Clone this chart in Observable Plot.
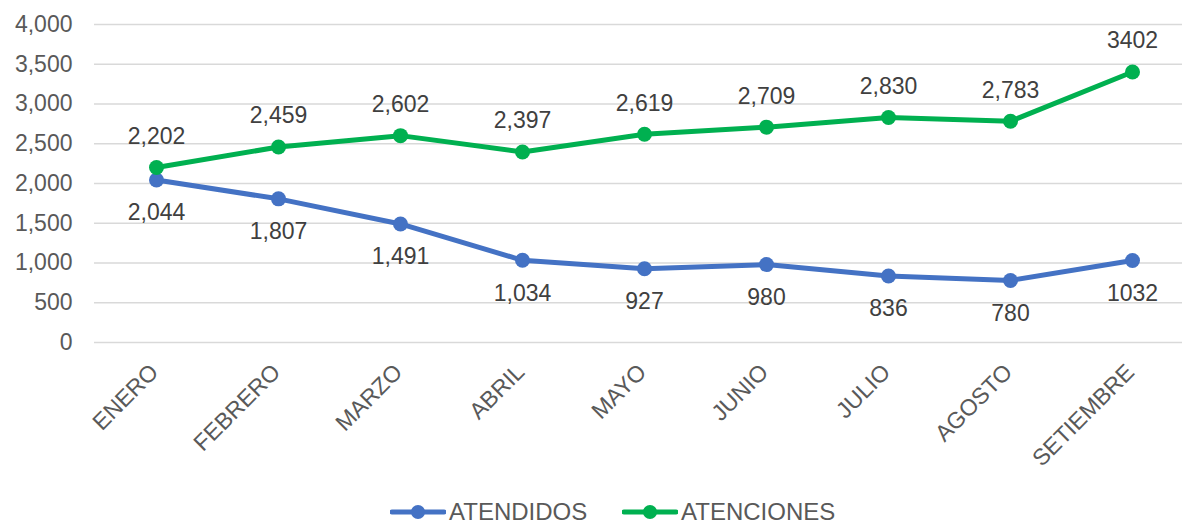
<!DOCTYPE html>
<html>
<head>
<meta charset="utf-8">
<script src="https://cdn.jsdelivr.net/npm/d3@7"></script>
<script src="https://cdn.jsdelivr.net/npm/@observablehq/plot@0.6"></script>
<style>
  html, body { margin: 0; padding: 0; background: #fff; }
  body { width: 1184px; height: 523px; overflow: hidden; font-family: "Liberation Sans", Arial, sans-serif; }
  #chart svg { display: block; }
  #legend { position: relative; height: 33px; }
  .item { position: absolute; top: 5px; height: 33px; display: flex; align-items: center; font-size: 24px; color: #595959; }
  .item svg { display: block; margin-right: 3px; }
</style>
</head>
<body>
<div id="chart"></div>
<div id="legend"></div>
<script>
const months = ["ENERO","FEBRERO","MARZO","ABRIL","MAYO","JUNIO","JULIO","AGOSTO","SETIEMBRE"];
const atendidos = [2044, 1807, 1491, 1034, 927, 980, 836, 780, 1032];
const atenciones = [2202, 2459, 2602, 2397, 2619, 2709, 2830, 2783, 3402];
const atendidosLabels = ["2,044","1,807","1,491","1,034","927","980","836","780","1032"];
const atencionesLabels = ["2,202","2,459","2,602","2,397","2,619","2,709","2,830","2,783","3402"];
const yTicks = [0, 500, 1000, 1500, 2000, 2500, 3000, 3500, 4000];
const seriesNames = ["ATENDIDOS", "ATENCIONES"];
const colors = ["#4472C4", "#00B050"];

const dA = months.map((m, i) => ({month: m, value: atendidos[i], label: atendidosLabels[i]}));
const dB = months.map((m, i) => ({month: m, value: atenciones[i], label: atencionesLabels[i]}));

const font = "Liberation Sans, Arial, sans-serif";

const chart = Plot.plot({
  width: 1184,
  height: 490,
  marginLeft: 94,
  marginRight: 2,
  marginTop: 24,
  marginBottom: 148,
  style: {fontFamily: font, background: "#fff"},
  x: {type: "point", domain: months, range: [155, 1133], padding: 0, label: null},
  y: {domain: [0, 4000], label: null},
  marks: [
    Plot.gridY(yTicks, {stroke: "#d9d9d9", strokeOpacity: 1, strokeWidth: 1.5}),
    Plot.axisY(yTicks, {tickSize: 0, tickPadding: 22, tickFormat: d3.format(","), fontSize: 23, fill: "#595959", label: null}),
    Plot.axisX({tickSize: 0, tickRotate: -45, fontSize: 23, fill: "#595959", label: null, dx: -2, dy: 14}),
    Plot.line(dA, {x: "month", y: "value", stroke: colors[0], strokeWidth: 5}),
    Plot.dot(dA, {x: "month", y: "value", fill: colors[0], r: 7.5}),
    Plot.line(dB, {x: "month", y: "value", stroke: colors[1], strokeWidth: 5}),
    Plot.dot(dB, {x: "month", y: "value", fill: colors[1], r: 7.5}),
    Plot.text(dA, {x: "month", y: "value", text: "label", dy: 33, fontSize: 23, fill: "#404040"}),
    Plot.text(dB, {x: "month", y: "value", text: "label", dy: -31, fontSize: 23, fill: "#404040"})
  ]
});
document.getElementById("chart").appendChild(chart);

const legend = document.getElementById("legend");
const lefts = [390, 622];
seriesNames.forEach((name, i) => {
  const item = document.createElement("div");
  item.className = "item";
  item.style.left = lefts[i] + "px";
  item.innerHTML = `<svg width="56" height="20"><line x1="2" y1="10" x2="54" y2="10" stroke="${colors[i]}" stroke-width="5" stroke-linecap="round"/><circle cx="28" cy="10" r="7" fill="${colors[i]}"/></svg><span>${name}</span>`;
  legend.appendChild(item);
});
</script>
</body>
</html>
